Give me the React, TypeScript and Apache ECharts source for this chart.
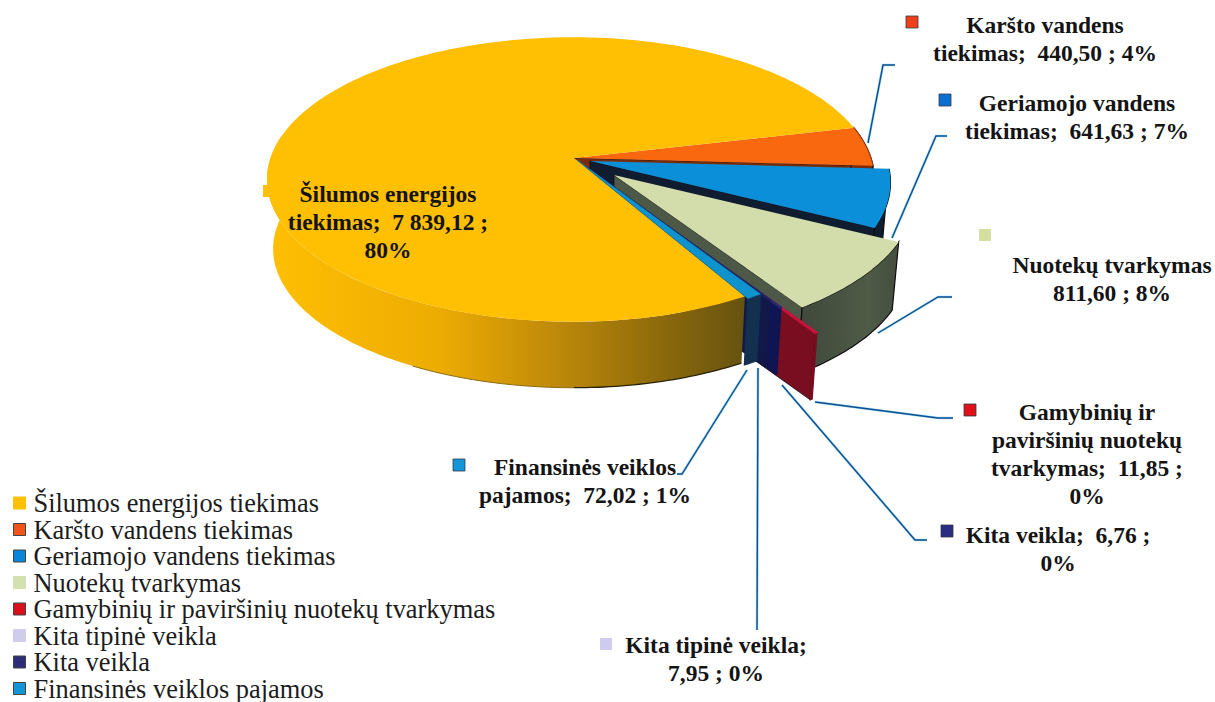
import React, { useEffect, useRef } from "react";
import * as echarts from "echarts";

// ---- data ----
const categories = [
  "Šilumos energijos tiekimas",
  "Karšto vandens tiekimas",
  "Geriamojo vandens tiekimas",
  "Nuotekų tvarkymas",
  "Gamybinių ir paviršinių nuotekų tvarkymas",
  "Kita tipinė veikla",
  "Kita veikla",
  "Finansinės veiklos pajamos",
];
const values = [7839.12, 440.5, 641.63, 811.6, 11.85, 7.95, 6.76, 72.02];
const labelTexts = [
  "Šilumos energijos\ntiekimas;  7 839,12 ;\n80%",
  "Karšto vandens\ntiekimas;  440,50 ; 4%",
  "Geriamojo vandens\ntiekimas;  641,63 ; 7%",
  "Nuotekų tvarkymas\n811,60 ; 8%",
  "Gamybinių ir\npaviršinių nuotekų\ntvarkymas;  11,85 ;\n0%",
  "Kita tipinė veikla;\n7,95 ; 0%",
  "Kita veikla;  6,76 ;\n0%",
  "Finansinės veiklos\npajamos;  72,02 ; 1%",
];

// ---- styling ----
const topColors = ["#FFBF03", "#F9680F", "#0A8FD8", "#D2DDAB", "#C8123C", "#262a70", "#1b2060", "#0F93CC"];
const wallColors = ["#C08A0A", "#7a2c08", "#101C30", "#4E5847", "#780E20", "#0F1552", "#121848", "#13304F"];
const legendColors = ["#FFC000", "#F0541A", "#0A86D8", "#D5E0B0", "#D8101C", "#CFCDEB", "#2C2C78", "#1496D6"];
const markerColors = ["#FFBF03", "#F0401A", "#0A70D0", "#D5E0A0", "#E01018", "#CFCBEE", "#2C2C80", "#1496D6"];
const paintOrder = [8, 2, 3, 4, 5, 6, 7, 9];

// ---- layout (pixels) ----
const CX = 574, CY = 158, A_LEFT = 303.5, A_RIGHT = 297, B = 139, P = 0.151, START_DEG = 60;
const explodeX = [0, 0, 16, 40, 55, 21, 11, 3];
const explodeY = [0, 0, 3, 17, 42, 16, 8, 2];
const labelX = [388, 1045, 1077, 1112, 1087, 716, 1058, 585];
const labelY = [222, 39, 117, 279, 454, 659, 549, 481];
const markerX = [263, 906, 939, 979, 964, 600, 941, 453];
const markerY = [185, 16, 94, 229, 404, 638, 525, 459];
const leaders = [
  null,
  [[868, 143], [883, 65], [895, 65]],
  [[892, 238], [936, 136], [947, 136]],
  [[878, 333], [938, 297], [952, 297]],
  [[815, 402], [938, 418], [953, 418]],
  [[758, 368], [757, 630]],
  [[782, 385], [915, 540], [927, 540]],
  [[747, 370], [682, 474], [677, 474]],
];

const total = values.reduce((a, b) => a + b, 0);
const startDegOf = (i: number) =>
  START_DEG + (values.slice(0, i).reduce((a, b) => a + b, 0) / total) * 360;

const topPt = (deg: number) => {
  const t = (deg * Math.PI) / 180;
  const u = Math.cos(t), v = Math.sin(t), w = 1 - P * v;
  return [CX + ((u > 0 ? A_RIGHT : A_LEFT) * u) / w, CY + (B * v) / w, v];
};
const dropPt = (p: number[]) => [CX + (p[0] - CX) * 0.98, p[1] + 70 - 4 * p[2]];
const shift = (p: number[], i: number) => [p[0] + explodeX[i], p[1] + explodeY[i], p[2]];
const xy = (p: number[]) => [p[0], p[1]];

const arcPts = (a: number, b: number, i: number) => {
  const n = Math.max(2, Math.ceil(Math.abs(b - a)));
  const pts: number[][] = [];
  for (let k = 0; k <= n; k++) pts.push(shift(topPt(a + ((b - a) * k) / n), i));
  return pts;
};

const yellowWall = new echarts.graphic.LinearGradient(0, 0, 1, 0, [
  { offset: 0, color: "#FFBF03" },
  { offset: 0.36, color: "#EDAC02" },
  { offset: 0.6, color: "#C08A0A" },
  { offset: 0.78, color: "#96700A" },
  { offset: 1, color: "#665210" },
]);
const greenWall = new echarts.graphic.LinearGradient(0, 0, 1, 0, [
  { offset: 0, color: "#3F483A" },
  { offset: 0.7, color: "#4F5A47" },
  { offset: 1, color: "#444D3F" },
]);

const makeRender = (i: number) => (_params: any, api: any) => {
  const sweep = (api.value(0) / total) * 360;
  const a = startDegOf(i);
  const b = a + sweep;
  const arc = arcPts(a, b, i);
  const apex = [CX + explodeX[i], CY + explodeY[i]];
  const children: any[] = [];

  // radial wall on the slice's far side, facing the viewer
  if (i >= 1 && i <= 6) {
    const end = arc[arc.length - 1];
    const drop = dropPt(end);
    const apexDrop = [CX + (apex[0] - CX) * 0.98, apex[1] + 70];
    children.push({
      type: "polygon",
      shape: { points: [apex, xy(end), drop, apexDrop] },
      style: {
        fill: wallColors[i],
        stroke: i >= 5 ? wallColors[i] : "#0c0c14",
        lineWidth: 0.8,
      },
    });
  }
  // outer wall
  const wallArc = i === 0 ? arcPts(a, 190, i) : arc;
  children.push({
    type: "polygon",
    shape: { points: [...wallArc.map(xy), ...wallArc.slice().reverse().map(dropPt)] },
    style: {
      fill: i === 0 ? yellowWall : i === 3 ? greenWall : wallColors[i],
      stroke: i === 0 ? "none" : i >= 4 ? wallColors[i] : "#0c0c0c",
      lineWidth: 1.2,
    },
  });
  if (i === 0) {
    children.push({
      type: "polyline",
      shape: { points: arcPts(a, 90, i).map(dropPt) },
      style: { fill: "none", stroke: "#2a2208", lineWidth: 1.3 },
    });
    children.push({
      type: "polyline",
      shape: { points: arcPts(90, 118, i).map(dropPt) },
      style: { fill: "none", stroke: "#8a6a10", lineWidth: 1 },
    });
  }
  // top face
  children.push({
    type: "polygon",
    shape: { points: [apex, ...arc.map(xy)] },
    style: { fill: topColors[i], stroke: i >= 4 ? topColors[i] : "none", lineWidth: i >= 4 && i <= 6 ? 1.4 : 0.5 },
  });
  if (i === 1) {
    children.push({
      type: "polyline",
      shape: { points: arc.map(xy) },
      style: { fill: "none", stroke: "#A33A10", lineWidth: 1 },
    });
  }
  return { type: "group", children };
};

export default function App() {
  const ref = useRef<HTMLDivElement>(null);
  useEffect(() => {
    document.body.style.margin = "0";
    const chart = echarts.init(ref.current!, undefined, { renderer: "svg" });
    const graphic: any[] = [];
    leaders.forEach((pts) => {
      if (!pts) return;
      graphic.push({
        type: "polyline",
        z: 1,
        shape: { points: pts },
        style: { fill: "none", stroke: "#9fdcf2", lineWidth: 2.6 },
      });
      graphic.push({
        type: "polyline",
        z: 1,
        shape: { points: pts },
        style: { fill: "none", stroke: "#0F4F90", lineWidth: 1.4 },
      });
    });
    labelTexts.forEach((t, i) => {
      graphic.push({
        type: "text",
        z: 30,
        x: labelX[i],
        y: labelY[i],
        style: {
          text: t,
          fill: "#141414",
          font: "bold 23.5px 'Liberation Serif'",
          lineHeight: 28,
          align: "center",
          verticalAlign: "middle",
        },
      });
      graphic.push({
        type: "rect",
        z: i === 0 ? 1 : 30,
        shape: { x: markerX[i], y: markerY[i], width: 12, height: 12 },
        style: {
          fill: markerColors[i],
          stroke: i === 0 || i === 3 || i === 5 ? "none" : "#33384a",
          lineWidth: 0.8,
        },
      });
    });
    chart.setOption({
      animation: false,
      backgroundColor: "#ffffff",
      legend: {
        orient: "vertical",
        left: 13,
        top: 490,
        height: 260,
        padding: 0,
        itemGap: 0.5,
        itemWidth: 12,
        itemHeight: 12,
        selectedMode: false,
        textStyle: {
          fontFamily: "'Liberation Serif'",
          fontSize: 26.4,
          lineHeight: 26,
          color: "#1c1c1c",
          padding: [0, 0, 0, 3],
        },
        data: categories.map((name, i) => ({
          name,
          icon: "rect",
          itemStyle: {
            color: legendColors[i],
            borderColor: i === 0 || i === 3 || i === 5 ? legendColors[i] : "#444",
            borderWidth: 1,
          },
        })),
      },
      graphic,
      series: categories.map((name, i) => ({
        type: "custom",
        name,
        z: paintOrder[i],
        coordinateSystem: "none",
        silent: true,
        itemStyle: { color: legendColors[i] },
        data: [[values[i]]],
        renderItem: makeRender(i),
      })),
    });
    return () => chart.dispose();
  }, []);
  return (
    <div
      ref={ref}
      style={{ position: "fixed", left: 0, top: 0, width: 1215, height: 702, overflow: "hidden" }}
    />
  );
}
